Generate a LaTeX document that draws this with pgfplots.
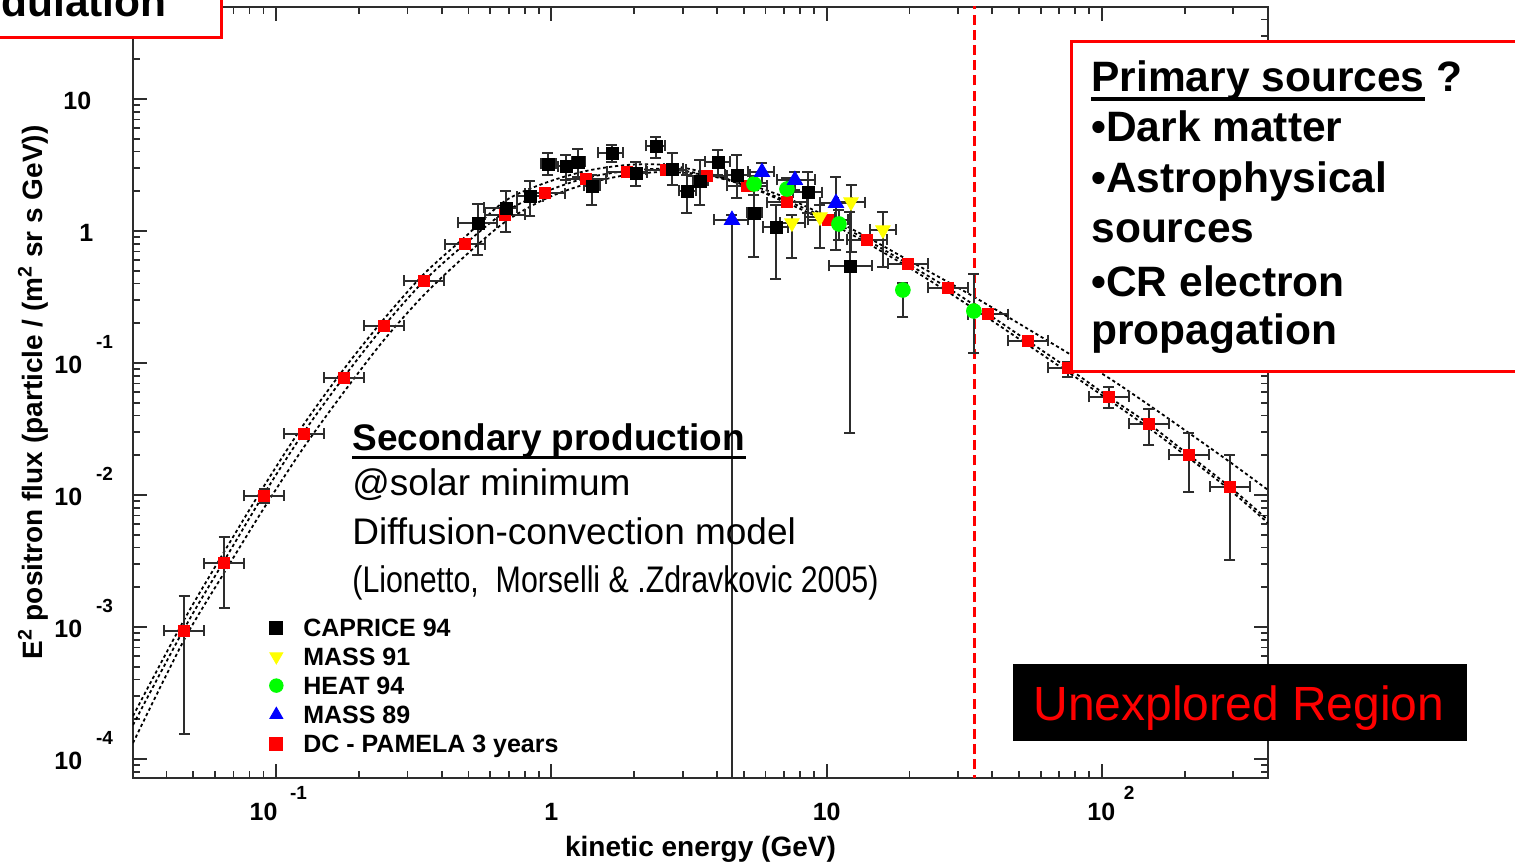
\documentclass[border=0pt]{standalone}
\usepackage{pgfplots}
\pgfplotsset{compat=1.18}
\usepackage{pgfplotstable}
\usepackage{fontspec}
\setmainfont{Liberation Sans}
\newfontfamily\narrowfont[FakeStretch=0.82]{Liberation Sans}

\definecolor{mgreen}{RGB}{0,255,0}
\definecolor{myellow}{RGB}{255,255,0}
\definecolor{axisgray}{RGB}{45,45,45}

% positron data: energy, E^2 flux, bin edges and error limits
\pgfplotstableread{
x       y        xlo     xhi     ylo       yhi
0.0463  9.33e-4  0.0392  0.0547  1.547e-4  1.717e-3
0.0647  3.053e-3 0.0547  0.0765  1.393e-3  4.805e-3
0.0904  9.83e-3  0.0765  0.1068  8.70e-3   1.110e-2
0.1263  0.02898  0.1068  0.1492  0.0284    0.0296
0.1764  0.07698  0.1492  0.2085  0.0754    0.0785
0.2465  0.1907   0.2085  0.2913  0.187     0.195
0.3444  0.4181   0.2913  0.4071  0.410     0.427
0.4856  0.7969   0.4108  0.5740  0.781     0.813
0.6784  1.322    0.5740  0.8019  1.296     1.349
0.948   1.940    0.8020  1.1205  1.90      1.98
1.336   2.477    1.130   1.579   2.43      2.53
1.882   2.799    1.592   2.224   2.74      2.86
2.609   2.899    2.207   3.084   2.84      2.96
3.675   2.610    3.109   4.344   2.56      2.66
5.135   2.193    4.344   6.069   2.15      2.24
7.176   1.658    6.071   8.482   1.62      1.69
10.11   1.212    8.553   11.95   1.19      1.24
14.01   0.8547   11.85   16.56   0.835     0.875
19.74   0.5623   16.70   23.33   0.549     0.576
27.58   0.3700   23.33   32.60   0.360     0.380
38.54   0.2350   32.61   45.55   0.228     0.242
53.86   0.1468   45.57   63.66   0.141     0.153
75.24   0.09165  63.66   88.93   0.07831   0.1018
106.0   0.05527  89.68   125.3   0.04561   0.06579
148.1   0.03450  125.3   175.1   0.02392   0.04482
207.0   0.02009  175.1   244.7   0.01054   0.02949
291.6   0.01150  246.7   344.7   3.218e-3  0.02009
}\pamela

\pgfplotstableread{
x       y       xlo     xhi     ylo      yhi
0.5411  1.150   0.4577  0.6345  0.6579   1.602
0.6840  1.494   0.5689  0.7503  0.9827   2.009
0.8362  1.841   0.7503  0.9322  1.299    2.392
0.9720  3.218   0.9167  1.039   2.657    3.899
1.130   3.107   1.057   1.188   2.434    3.765
1.249   3.332   1.188   1.324   2.566    4.180
1.404   2.193   1.313   1.501   1.574    2.657
1.660   3.899   1.476   1.820   3.332    4.483
2.029   2.751   1.805   2.225   2.193    3.332
2.399   4.405   2.206   2.586   3.573    5.153
2.743   2.950   2.565   3.006   2.231    3.899
3.109   2.009   2.907   3.352   1.369    2.657
3.466   2.392   3.269   3.706   1.574    3.451
4.029   3.332   3.614   4.455   2.657    4.108
4.723   2.657   4.272   5.265   1.778    3.765
5.444   1.369   5.135   5.821   0.6355   1.874
6.545   1.072   5.870   7.235   0.4329   1.574
8.552   1.974   7.544   9.614   1.369    2.799
12.15   0.5430  10.19   14.61   0.02949  1.393
}\caprice

\pgfplotstableread{
x       y       xlo     xhi     ylo      yhi
7.480   1.150   6.766   8.340   0.6243   1.322
9.456   1.276   8.340   10.71   0.7434   1.574
12.26   1.658   11.00   13.78   0.6935   2.231
16.01   1.018   14.37   17.86   0.5336   1.393
}\massnineone

\pgfplotstableread{
x       y       xlo     xhi     ylo      yhi
5.444   2.270   5.444   5.444   1.874    2.610
7.176   2.080   7.176   7.176   1.658    2.521
11.08   1.130   11.08   11.08   0.8547   1.442
18.92   0.3573  18.92   18.92   0.2231   0.4037
34.26   0.2477  34.26   34.26   0.1191   0.4722
}\heat

\pgfplotstableread{
x       y       xlo     xhi     ylo      yhi
4.529   1.212   3.896   5.178   1.0e-5   1.322
5.821   2.799   5.178   6.437   2.310    3.274
7.670   2.434   6.599   9.052   2.045    2.799
10.81   1.630   9.456   12.36   0.7180   2.566
}\masseightnine

% diffusion-convection model band (three propagation set-ups)
\pgfplotstableread{
x        A         B         C
0.03021  2.118e-4  1.810e-4  1.322e-4
0.0463   1.130e-3  9.656e-4  7.970e-4
0.0647   3.700e-3  3.162e-3  2.565e-3
0.0904   0.01170   0.01018   7.970e-3
0.1263   0.03450   0.03001   0.02310
0.1764   0.09006   0.07831   0.06033
0.2465   0.2154    0.1907    0.1494
0.3444   0.4722    0.4181    0.3275
0.4856   0.9006    0.7969    0.6465
0.6784   1.688     1.393     1.170
0.948    2.310     1.974     1.747
1.336    2.848     2.521     2.270
1.882    3.162     2.848     2.657
2.609    3.162     2.950     2.799
3.675    2.751     2.657     2.657
5.135    2.193     2.193     2.270
7.176    1.630     1.688     1.778
10.11    1.170     1.233     1.276
14.01    0.8111    0.8547    0.9006
19.74    0.5336    0.5623    0.6031
27.58    0.3450    0.3700    0.4108
38.54    0.2193    0.2350    0.2750
53.86    0.1369    0.1468    0.1810
75.24    0.08545   0.09165   0.1191
106.0    0.05245   0.05527   0.07698
148.1    0.03218   0.03450   0.04806
207.0    0.01907   0.02009   0.02949
291.6    0.01091   0.01150   0.01778
401.2    6.136e-3  6.465e-3  0.01091
}\model

% tick labels
\newcommand{\tkfont}{\fontsize{12.5pt}{12.5pt}\selectfont\bfseries}
\newcommand{\exfont}{\fontsize{9.5pt}{9.5pt}\selectfont\bfseries}
\newcommand{\ylabexp}[1]{\makebox[0pt][l]{\hspace{-39.25pt}\tkfont 10\hspace{6.85pt}\raisebox{12.5pt}{\exfont #1}}}
\newcommand{\ylabplain}[2]{\makebox[0pt][l]{\hspace{#1}\tkfont #2}}
\newcommand{\xlabexp}[3]{\makebox[0pt][l]{\hspace{#1}\tkfont 10\hspace{#2}\raisebox{10.75pt}{\exfont #3}}}

\pgfplotsset{
  errs/.style={error bars/.cd, x dir=both, y dir=both, x explicit, y explicit,
    error bar style={axisgray, line width=0.8pt, solid},
    error mark options={axisgray, line width=0.8pt, mark size=2.75pt, rotate=90}},
}

\begin{document}
\begin{tikzpicture}
\begin{axis}[
  at={(66.5pt,43.5pt)}, anchor=south west,
  width=567.5pt, height=385.5pt, scale only axis,
  xmode=log, ymode=log,
  xmin=0.03021, xmax=401.2, ymin=7.178e-5, ymax=49.77,
  xtick={0.1,1,10,100},
  xticklabels={\xlabexp{-13.25pt}{6.35pt}{-1}, \makebox[0pt]{\tkfont 1}, \makebox[0pt]{\tkfont 10}, \xlabexp{-7.25pt}{4.35pt}{2}},
  minor xtick={0.04,0.05,0.06,0.07,0.08,0.09,0.2,0.3,0.4,0.5,0.6,0.7,0.8,0.9,2,3,4,5,6,7,8,9,20,30,40,50,60,70,80,90,200,300},
  ytick={1e-4,1e-3,1e-2,0.1,1,10},
  yticklabels={\ylabexp{-4}, \ylabexp{-3}, \ylabexp{-2}, \ylabexp{-1}, \ylabplain{-26.75pt}{1}, \ylabplain{-34.75pt}{10}},
  minor ytick={8e-5,9e-5,2e-4,3e-4,4e-4,5e-4,6e-4,7e-4,8e-4,9e-4,2e-3,3e-3,4e-3,5e-3,6e-3,7e-3,8e-3,9e-3,0.02,0.03,0.04,0.05,0.06,0.07,0.08,0.09,0.2,0.3,0.4,0.5,0.6,0.7,0.8,0.9,2,3,4,5,6,7,8,9,20,30,40},
  xticklabel style={anchor=base, inner sep=0pt, yshift=-21.5pt},
  yticklabel style={anchor=base, inner sep=0pt, yshift=-5.25pt},
  major tick length=7pt, minor tick length=3.5pt,
  tick style={axisgray, line width=0.9pt},
  axis line style={axisgray, line width=1pt},
  legend style={at={(0.1189,0.2075)}, anchor=north west, draw=none, fill=none,
    inner sep=0pt, row sep=5.55pt, column sep=9.5pt,
    font=\bfseries\fontsize{12.5pt}{12.5pt}\selectfont,
    nodes={inner sep=0pt, text height=9pt, text depth=0pt, draw=none}},
  legend cell align=left,
  legend image code/.code={\path[draw=none, fill=none] (-4pt,-4.5pt) rectangle (4pt,4.5pt); \draw[#1] plot coordinates {(0pt,0pt)};},
]
\addlegendimage{only marks, mark=square*, mark size=3.25pt, black}
\addlegendentry{CAPRICE 94}
\addlegendimage{only marks, mark=triangle*, mark size=3.75pt, myellow, mark options={rotate=180}}
\addlegendentry{MASS 91}
\addlegendimage{only marks, mark=*, mark size=3.4pt, mgreen}
\addlegendentry{HEAT 94}
\addlegendimage{only marks, mark=triangle*, mark size=3.75pt, blue}
\addlegendentry{MASS 89}
\addlegendimage{only marks, mark=square*, mark size=3.25pt, red}
\addlegendentry{DC - PAMELA 3 years}

% model curves
\addplot[forget plot, black, line width=0.9pt, dash pattern=on 1.6pt off 1.4pt, smooth] table[x=x, y=A] {\model};
\addplot[forget plot, black, line width=0.9pt, dash pattern=on 1.6pt off 1.4pt, smooth] table[x=x, y=B] {\model};
\addplot[forget plot, black, line width=0.9pt, dash pattern=on 1.6pt off 1.4pt, smooth] table[x=x, y=C] {\model};

% limit of present measurements
\addplot[forget plot, red, line width=1.5pt, dash pattern=on 5pt off 2.6pt] coordinates {(34.56,1e-5) (34.56,100)};

\addplot[forget plot, only marks, mark=square*, mark size=2.75pt, red, errs]
  table[x=x, y=y, x error plus expr=\thisrow{xhi}-\thisrow{x}, x error minus expr=\thisrow{x}-\thisrow{xlo},
        y error plus expr=\thisrow{yhi}-\thisrow{y}, y error minus expr=\thisrow{y}-\thisrow{ylo}] {\pamela};
\addplot[forget plot, only marks, mark=square*, mark size=3pt, black, errs]
  table[x=x, y=y, x error plus expr=\thisrow{xhi}-\thisrow{x}, x error minus expr=\thisrow{x}-\thisrow{xlo},
        y error plus expr=\thisrow{yhi}-\thisrow{y}, y error minus expr=\thisrow{y}-\thisrow{ylo}] {\caprice};
\addplot[forget plot, only marks, mark=triangle*, mark size=4.2pt, myellow, mark options={rotate=180}, errs]
  table[x=x, y=y, x error plus expr=\thisrow{xhi}-\thisrow{x}, x error minus expr=\thisrow{x}-\thisrow{xlo},
        y error plus expr=\thisrow{yhi}-\thisrow{y}, y error minus expr=\thisrow{y}-\thisrow{ylo}] {\massnineone};
\addplot[forget plot, only marks, mark=*, mark size=3.7pt, mgreen, errs]
  table[x=x, y=y, x error plus expr=\thisrow{xhi}-\thisrow{x}, x error minus expr=\thisrow{x}-\thisrow{xlo},
        y error plus expr=\thisrow{yhi}-\thisrow{y}, y error minus expr=\thisrow{y}-\thisrow{ylo}] {\heat};
\addplot[forget plot, only marks, mark=triangle*, mark size=4.4pt, blue, errs]
  table[x=x, y=y, x error plus expr=\thisrow{xhi}-\thisrow{x}, x error minus expr=\thisrow{x}-\thisrow{xlo},
        y error plus expr=\thisrow{yhi}-\thisrow{y}, y error minus expr=\thisrow{y}-\thisrow{ylo}] {\masseightnine};
\end{axis}

% annotations, positioned in pixel units from the top-left corner
\begin{scope}[x=0.5pt, y=-0.5pt, shift={(0pt,432.5pt)}]
  \node[rotate=90, anchor=base, inner sep=0pt, font=\bfseries\fontsize{14pt}{14pt}\selectfont]
    at (42,392.5) {E\textsuperscript{2} positron flux (particle / (m\textsuperscript{2} sr s GeV))};
  \node[anchor=base, inner sep=0pt, font=\bfseries\fontsize{14pt}{14pt}\selectfont]
    at (700.5,857) {kinetic energy (GeV)};

  \node[anchor=base west, inner sep=0pt, font=\bfseries\fontsize{18.5pt}{20pt}\selectfont] at (352,450.5) {Secondary production};
  \draw[line width=1.5pt] (352,457.5) -- (746,457.5);
  \node[anchor=base west, inner sep=0pt, font=\fontsize{18.5pt}{20pt}\selectfont] at (352,496) {@solar minimum};
  \node[anchor=base west, inner sep=0pt, font=\fontsize{18.5pt}{20pt}\selectfont] at (352,545) {Diffusion-convection model};
  \node[anchor=base west, inner sep=0pt, font=\narrowfont\fontsize{18.5pt}{20pt}\selectfont] at (352,593) {(Lionetto, \ Morselli \& .Zdravkovic 2005)};

  \fill[black] (1013,664) rectangle (1467,741);
  \node[anchor=base west, inner sep=0pt, text=red, font=\fontsize{24pt}{26pt}\selectfont] at (1033,721) {Unexplored Region};

  \draw[red, line width=1.5pt, fill=white] (1071,42) rectangle (1540,372);
  \begin{scope}[every node/.style={anchor=base west, inner sep=0pt, font=\bfseries\fontsize{21.25pt}{22pt}\selectfont}]
    \node at (1091,92) {Primary sources ?};
    \draw[line width=2pt] (1091,99.5) -- (1425,99.5);
    \node at (1091,142) {•Dark matter};
    \node at (1091,193) {•Astrophysical};
    \node at (1091,243) {sources};
    \node at (1091,297) {•CR electron};
    \node at (1091,345) {propagation};
  \end{scope}

  \draw[red, line width=1.5pt, fill=white] (-30,-30) rectangle (221,38);
  \node[anchor=base east, inner sep=0pt, font=\bfseries\fontsize{21.25pt}{22pt}\selectfont] at (167,17) {Solar modulation};
\end{scope}

\pgfresetboundingbox
\useasboundingbox (0pt,0pt) rectangle (757.5pt,432.5pt);
\end{tikzpicture}
\end{document}
